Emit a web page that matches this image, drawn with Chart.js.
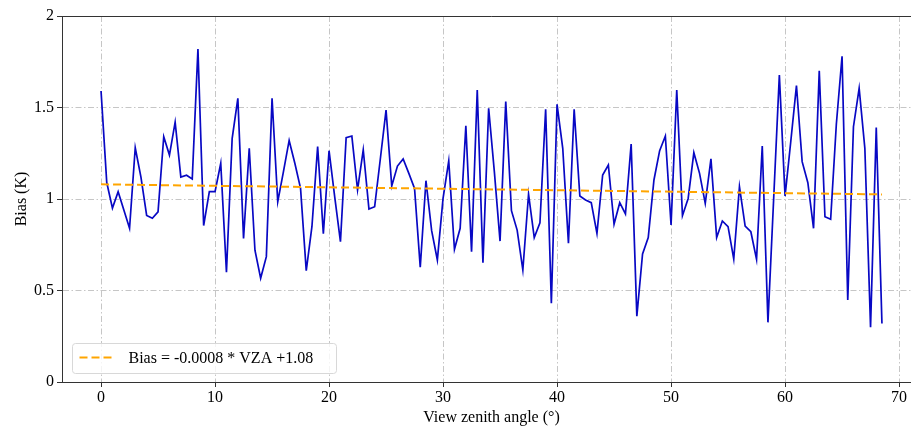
<!DOCTYPE html>
<html>
<head>
<meta charset="utf-8">
<script src="https://cdn.jsdelivr.net/npm/chart.js@4/dist/chart.umd.min.js"></script>
<style>
    html, body { margin: 0; padding: 0; background: #fff; overflow: hidden; width: 911px; height: 429px; }
    #wrap { width: 930px; height: 429px; }
</style>
</head>
<body>
<div id="wrap"><canvas id="chart" width="930" height="429"></canvas></div>
<script>
// view zenith angle (deg) and bias (K)
var angles = [
    0, 0.5, 1, 1.5, 2, 2.5, 3, 3.5, 4, 4.5, 5, 5.5, 6, 6.5, 7, 7.5, 8, 8.5, 9, 9.5,
    10, 10.5, 11, 11.5, 12, 12.5, 13, 13.5, 14, 14.5, 15, 15.5, 16, 16.5, 17, 17.5, 18, 18.5, 19, 19.5,
    20, 20.5, 21, 21.5, 22, 22.5, 23, 23.5, 24, 24.5, 25, 25.5, 26, 26.5, 27, 27.5, 28, 28.5, 29, 29.5,
    30, 30.5, 31, 31.5, 32, 32.5, 33, 33.5, 34, 34.5, 35, 35.5, 36, 36.5, 37, 37.5, 38, 38.5, 39, 39.5,
    40, 40.5, 41, 41.5, 42, 42.5, 43, 43.5, 44, 44.5, 45, 45.5, 46, 46.5, 47, 47.5, 48, 48.5, 49, 49.5,
    50, 50.5, 51, 51.5, 52, 52.5, 53, 53.5, 54, 54.5, 55, 55.5, 56, 56.5, 57, 57.5, 58, 58.5, 59, 59.5,
    60, 60.5, 61, 61.5, 62, 62.5, 63, 63.5, 64, 64.5, 65, 65.5, 66, 66.5, 67, 67.5, 68, 68.5
];
var bias = [
    1.59, 1.09, 0.95, 1.04, 0.94, 0.84, 1.28, 1.12, 0.91, 0.895, 0.93, 1.34, 1.24, 1.42, 1.12, 1.13, 1.11, 1.82, 0.855, 1.04,
    1.04, 1.195, 0.60, 1.33, 1.55, 0.785, 1.277, 0.72, 0.567, 0.685, 1.55, 0.985, 1.15, 1.32, 1.195, 1.058, 0.608, 0.85, 1.286, 0.81,
    1.264, 1.01, 0.767, 1.335, 1.344, 1.05, 1.268, 0.945, 0.958, 1.22, 1.486, 1.071, 1.18, 1.219, 1.14, 1.058, 0.627, 1.10, 0.827, 0.667,
    1.003, 1.208, 0.725, 0.84, 1.40, 0.712, 1.596, 0.652, 1.496, 1.15, 0.77, 1.532, 0.936, 0.83, 0.612, 1.026, 0.789, 0.87, 1.49, 0.43,
    1.517, 1.277, 0.758, 1.49, 1.016, 0.995, 0.98, 0.812, 1.131, 1.186, 0.862, 0.98, 0.918, 1.30, 0.36, 0.70, 0.789, 1.104, 1.264, 1.344,
    0.858, 1.596, 0.909, 1.003, 1.253, 1.14, 0.976, 1.219, 0.789, 0.88, 0.849, 0.672, 1.067, 0.852, 0.821, 0.67, 1.29, 0.326, 1.00, 1.677,
    1.016, 1.313, 1.62, 1.204, 1.089, 0.84, 1.70, 0.903, 0.889, 1.41, 1.78, 0.448, 1.395, 1.605, 1.277, 0.299, 1.39, 0.32
];
// fitted line end points: Bias = -0.0008 * VZA + 1.08
var fitAngles = [0, 68.5];
var fitBias = [1.08, 1.0252];
var fitLabel = "Bias = -0.0008 * VZA +1.08";

var xTicks = [0, 10, 20, 30, 40, 50, 60, 70];
var yTicks = [0, 0.5, 1, 1.5, 2];

var FONT = "'Liberation Serif', 'Times New Roman', serif";
var ORANGE = "#FFA500";
var BLUE = "#0808c4";
var GRID = "#c6c6c6";

function pts(xs, ys) {
    return xs.map(function (x, i) { return { x: x, y: ys[i] }; });
}

var framePlugin = {
    id: 'frame',
    afterDraw: function (chart) {
        var ctx = chart.ctx, a = chart.chartArea;
        ctx.save();
        // top spine
        ctx.strokeStyle = "#333";
        ctx.lineWidth = 1;
        ctx.beginPath();
        ctx.moveTo(a.left, a.top + 0.5);
        ctx.lineTo(a.right, a.top + 0.5);
        ctx.stroke();

        // legend box, lower left
        var bx = a.left + 10.5, by = a.bottom - 38.5, bw = 264, bh = 30, r = 3;
        ctx.beginPath();
        ctx.moveTo(bx + r, by);
        ctx.lineTo(bx + bw - r, by);
        ctx.quadraticCurveTo(bx + bw, by, bx + bw, by + r);
        ctx.lineTo(bx + bw, by + bh - r);
        ctx.quadraticCurveTo(bx + bw, by + bh, bx + bw - r, by + bh);
        ctx.lineTo(bx + r, by + bh);
        ctx.quadraticCurveTo(bx, by + bh, bx, by + bh - r);
        ctx.lineTo(bx, by + r);
        ctx.quadraticCurveTo(bx, by, bx + r, by);
        ctx.closePath();
        ctx.fillStyle = "rgba(255,255,255,0.8)";
        ctx.fill();
        ctx.strokeStyle = "#d8d8d8";
        ctx.stroke();

        ctx.strokeStyle = ORANGE;
        ctx.lineWidth = 2;
        ctx.setLineDash([8, 4]);
        ctx.beginPath();
        ctx.moveTo(bx + 7, by + 14);
        ctx.lineTo(bx + 39, by + 14);
        ctx.stroke();
        ctx.setLineDash([]);

        ctx.fillStyle = "#000";
        ctx.font = "16px " + FONT;
        ctx.textAlign = "left";
        ctx.textBaseline = "middle";
        ctx.fillText(fitLabel, bx + 56, by + 15);
        ctx.restore();
    }
};

new Chart(document.getElementById('chart'), {
    type: 'line',
    data: {
        datasets: [
            {
                label: fitLabel,
                data: pts(fitAngles, fitBias),
                borderColor: ORANGE,
                borderWidth: 2,
                borderDash: [8, 4],
                pointRadius: 0,
                fill: false,
                order: 0
            },
            {
                label: 'Bias',
                data: pts(angles, bias),
                borderColor: BLUE,
                borderWidth: 1.7,
                pointRadius: 0,
                tension: 0,
                fill: false,
                order: 1
            }
        ]
    },
    options: {
        responsive: false,
        animation: false,
        devicePixelRatio: 1,
        layout: { padding: { top: 16, right: 9, left: 0, bottom: 0 } },
        plugins: {
            legend: { display: false },
            tooltip: { enabled: false }
        },
        scales: {
            x: {
                type: 'linear',
                min: -3.425,
                max: 71.925,
                afterFit: function (s) { s.height = 47; },
                afterBuildTicks: function (s) { s.ticks = xTicks.map(function (v) { return { value: v }; }); },
                grid: { color: GRID, lineWidth: 1, tickLength: 5, tickColor: "#333" },
                border: { color: "#333", width: 1, dash: [6, 2.5, 1.5, 2.5] },
                ticks: { color: "#000", padding: 1, font: { family: FONT, size: 16 }, callback: function (v) { return String(v); } },
                title: { display: true, text: 'View zenith angle (°)', color: "#000", padding: { top: 0, bottom: 1.4 }, font: { family: FONT, size: 16 } }
            },
            y: {
                min: 0,
                max: 2,
                afterFit: function (s) { s.width = 62; },
                afterBuildTicks: function (s) { s.ticks = yTicks.map(function (v) { return { value: v }; }); },
                grid: { color: GRID, lineWidth: 1, tickLength: 5, tickColor: "#333" },
                border: { color: "#333", width: 1, dash: [6, 2.5, 1.5, 2.5] },
                ticks: { color: "#000", padding: 3, font: { family: FONT, size: 16 }, callback: function (v) { return String(v); } },
                title: { display: true, text: 'Bias (K)', color: "#000", padding: { top: 12, bottom: 0 }, font: { family: FONT, size: 16 } }
            }
        }
    },
    plugins: [framePlugin]
});
</script>
</body>
</html>
